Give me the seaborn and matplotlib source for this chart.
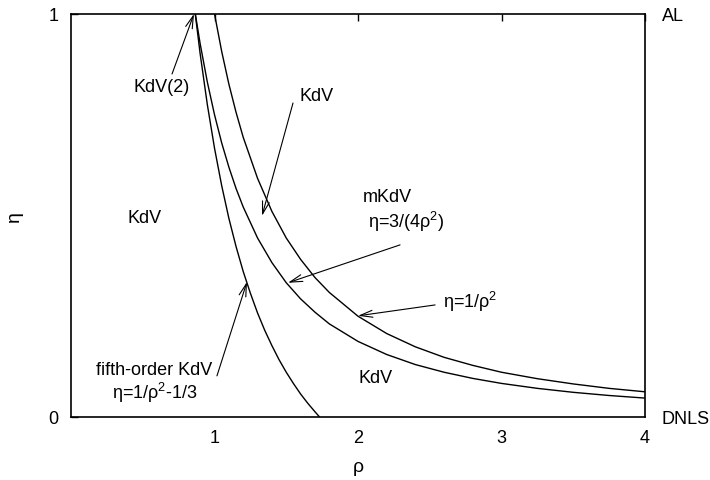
import numpy as np
import pandas as pd
import seaborn as sns
import matplotlib.pyplot as plt

# curve eta = 1/rho^2
rho_a = [1.0, 1.05, 1.1, 1.15, 1.2, 1.3, 1.4, 1.5, 1.6, 1.7, 1.8, 2.0, 2.2, 2.4, 2.6, 2.8, 3.0, 3.25, 3.5, 3.75, 4.0]
eta_a = [1.0, 0.907, 0.826, 0.756, 0.694, 0.592, 0.510, 0.444, 0.391, 0.346, 0.309, 0.25, 0.207, 0.174, 0.148, 0.128, 0.111, 0.095, 0.082, 0.071, 0.0625]

# curve eta = 3/(4 rho^2)
rho_b = [0.866, 0.9, 0.95, 1.0, 1.05, 1.1, 1.15, 1.2, 1.3, 1.4, 1.5, 1.6, 1.7, 1.8, 2.0, 2.2, 2.4, 2.6, 2.8, 3.0, 3.25, 3.5, 3.75, 4.0]
eta_b = [1.0, 0.926, 0.831, 0.75, 0.680, 0.620, 0.567, 0.521, 0.444, 0.383, 0.333, 0.293, 0.260, 0.231, 0.1875, 0.155, 0.130, 0.111, 0.0957, 0.0833, 0.0710, 0.0612, 0.0533, 0.0469]

# curve eta = 1/rho^2 - 1/3
rho_c = [0.866, 0.9, 0.95, 1.0, 1.05, 1.1, 1.15, 1.2, 1.25, 1.3, 1.35, 1.4, 1.45, 1.5, 1.55, 1.6, 1.65, 1.7, 1.732]
eta_c = [1.0, 0.901, 0.775, 0.667, 0.574, 0.493, 0.423, 0.361, 0.307, 0.258, 0.215, 0.177, 0.142, 0.111, 0.083, 0.057, 0.034, 0.013, 0.0]

x_ticks = [1, 2, 3, 4]
y_ticks = [0, 1]
right_labels = ["DNLS", "AL"]

sns.set_style("white")
plt.rcParams['font.family'] = ['Liberation Sans', 'DejaVu Sans']
plt.rcParams['mathtext.fontset'] = 'custom'
plt.rcParams['mathtext.rm'] = 'Liberation Sans'
plt.rcParams['mathtext.it'] = 'Liberation Sans'
plt.rcParams['text.color'] = 'black'
plt.rcParams['axes.labelcolor'] = 'black'
plt.rcParams['xtick.color'] = 'black'
plt.rcParams['ytick.color'] = 'black'

fig = plt.figure(figsize=(7.1, 4.81), dpi=100)
ax = fig.add_axes([0.1, 0.131, 0.8085, 0.838])

for r, e in [(rho_a, eta_a), (rho_b, eta_b), (rho_c, eta_c)]:
    df = pd.DataFrame({'rho': r, 'eta': e})
    sns.lineplot(data=df, x='rho', y='eta', ax=ax, color='black', lw=1.0, sort=False)

ax.set_xlim(0, 4)
ax.set_ylim(0, 1)
ax.set_xticks(x_ticks)
ax.set_yticks(y_ticks)
ax.tick_params(direction='in', length=5, width=1, top=True, right=False, labelsize=13, pad=9)
for s in ax.spines.values():
    s.set_color('black')
    s.set_linewidth(1.2)
ax.set_xlabel('ρ', fontsize=14, labelpad=8)
ax.set_ylabel('η', fontsize=14, labelpad=18)

ax2 = ax.twinx()
ax2.set_ylim(0, 1)
ax2.set_yticks(y_ticks)
ax2.set_yticklabels(right_labels)
ax2.tick_params(direction='in', length=0, labelsize=13, pad=12)
for s in ax2.spines.values():
    s.set_visible(False)

arrow = dict(arrowstyle='->,head_length=0.9,head_width=0.25', lw=0.8, color='black', shrinkA=0, shrinkB=0)
fs = 13

ax.text(0.63, 0.82, 'KdV(2)', fontsize=fs, ha='center', va='center')
ax.annotate('', xy=(0.857, 1.0), xytext=(0.704, 0.851), arrowprops=arrow)

ax.text(1.714, 0.797, 'KdV', fontsize=fs, ha='center', va='center')
ax.annotate('', xy=(1.331, 0.499), xytext=(1.547, 0.779), arrowprops=arrow)

ax.text(0.516, 0.496, 'KdV', fontsize=fs, ha='center', va='center')

ax.text(2.03, 0.546, 'mKdV', fontsize=fs, ha='left', va='center')
ax.text(2.07, 0.487, r'η=3/(4ρ$^2$)', fontsize=fs, ha='left', va='center')
ax.annotate('', xy=(1.512, 0.333), xytext=(2.293, 0.427), arrowprops=arrow)

ax.text(2.59, 0.288, r'η=1/ρ$^2$', fontsize=fs, ha='left', va='center')
ax.annotate('', xy=(2.0, 0.251), xytext=(2.537, 0.278), arrowprops=arrow)

ax.text(2.125, 0.099, 'KdV', fontsize=fs, ha='center', va='center')

ax.text(0.578, 0.119, 'fifth-order KdV', fontsize=fs, ha='center', va='center')
ax.text(0.585, 0.062, r'η=1/ρ$^2$-1/3', fontsize=fs, ha='center', va='center')
ax.annotate('', xy=(1.226, 0.335), xytext=(1.017, 0.102), arrowprops=arrow)

fig.savefig('out.png', dpi=100)
